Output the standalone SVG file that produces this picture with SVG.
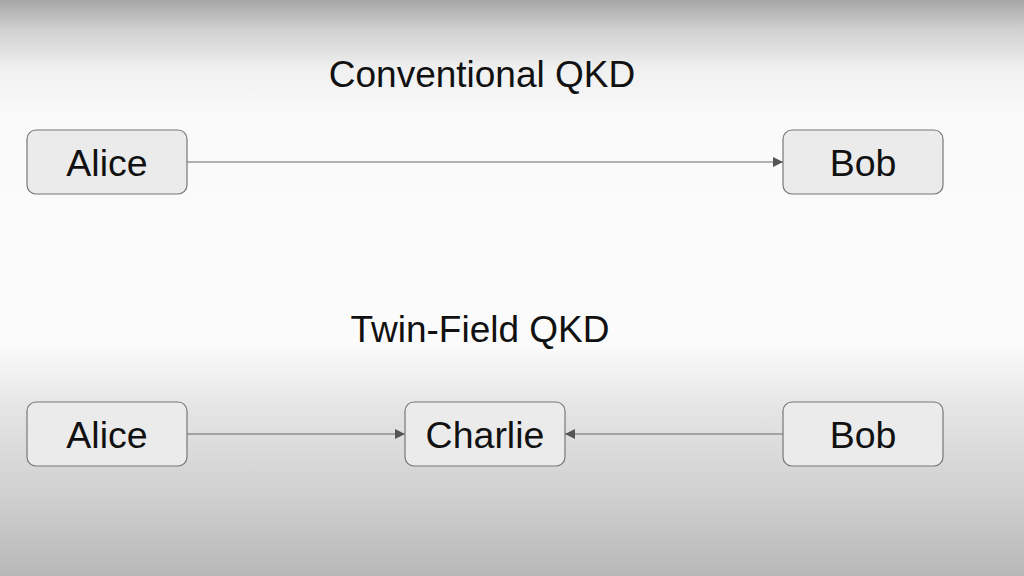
<svg xmlns="http://www.w3.org/2000/svg" width="1024" height="576" viewBox="0 0 1024 576">
<defs>
<linearGradient id="bg" x1="0" y1="0" x2="0" y2="1">
<stop offset="0" stop-color="#a6a6a6"/>
<stop offset="0.05" stop-color="#cfcfcf"/>
<stop offset="0.12" stop-color="#f0f0f0"/>
<stop offset="0.2" stop-color="#fafafa"/>
<stop offset="0.6" stop-color="#fbfbfb"/>
<stop offset="0.7" stop-color="#e6e6e6"/>
<stop offset="0.86" stop-color="#d0d0d0"/>
<stop offset="1" stop-color="#b8b8b8"/>
</linearGradient>
<marker id="arr" viewBox="0 0 10 10" refX="10" refY="5" markerWidth="10" markerHeight="10" markerUnits="userSpaceOnUse" orient="auto">
<path d="M0,0 L10,5 L0,10 z" fill="#555"/>
</marker>
<style>
.box{fill:#ebebeb;stroke:#777;stroke-width:1.2}
.lbl{font-family:"Liberation Sans",Arial,sans-serif;font-size:37.5px;fill:#111;text-anchor:middle}
.ttl{font-family:"Liberation Sans",Arial,sans-serif;font-size:37px;fill:#111;text-anchor:middle}
.edge{stroke:#666;stroke-width:1.2;fill:none;marker-end:url(#arr)}
</style>
</defs>
<rect width="1024" height="576" fill="url(#bg)"/>
<text class="ttl" x="482" y="87">Conventional QKD</text>
<text class="ttl" x="480" y="342">Twin-Field QKD</text>
<g id="connectors">
<line class="edge" x1="187" y1="162" x2="783" y2="162"/>
<line class="edge" x1="187" y1="434" x2="405" y2="434"/>
<line class="edge" x1="783" y1="434" x2="565" y2="434"/>
</g>
<g id="alice1"><rect class="box" x="27" y="130" width="160" height="64" rx="9"/><text class="lbl" x="107" y="176">Alice</text></g>
<g id="bob1"><rect class="box" x="783" y="130" width="160" height="64" rx="9"/><text class="lbl" x="863" y="176">Bob</text></g>
<g id="alice2"><rect class="box" x="27" y="402" width="160" height="64" rx="9"/><text class="lbl" x="107" y="448">Alice</text></g>
<g id="charlie"><rect class="box" x="405" y="402" width="160" height="64" rx="9"/><text class="lbl" x="485" y="448">Charlie</text></g>
<g id="bob2"><rect class="box" x="783" y="402" width="160" height="64" rx="9"/><text class="lbl" x="863" y="448">Bob</text></g>
</svg>
